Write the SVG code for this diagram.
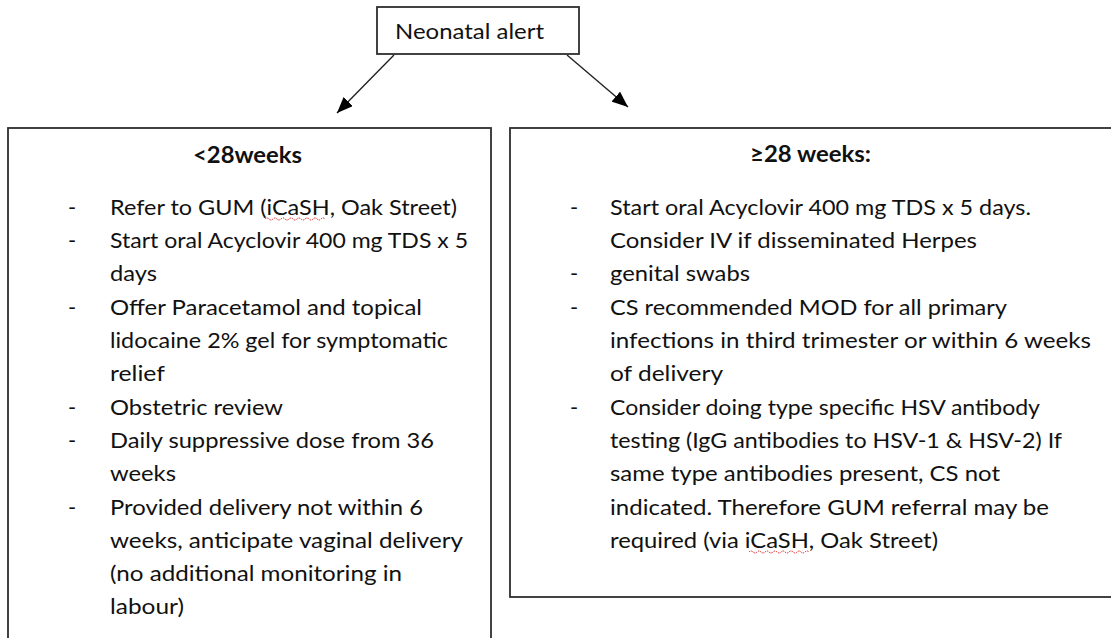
<svg xmlns="http://www.w3.org/2000/svg" width="1111" height="638" viewBox="0 0 1111 638">
<defs>
<marker id="arr" markerUnits="userSpaceOnUse" markerWidth="17" markerHeight="13" refX="16" refY="6.5" orient="auto">
<path d="M0,0 L16,6.5 L0,13 z" fill="#000"/>
</marker>
<style>
.box{fill:#fff;stroke:#2e2e2e;stroke-width:1.8}
.t{font-family:Lato,"Open Sans","Liberation Sans",sans-serif;font-size:22px;fill:#111}
.b{font-weight:bold}
.conn{stroke:#222;stroke-width:1.4;fill:none}
.sq{stroke:#e02020;stroke-width:1;fill:none;stroke-dasharray:1.5 1}
</style>
</defs>
<rect width="1111" height="638" fill="#fff"/>
<g id="connectors">
<line class="conn" x1="394" y1="55" x2="337" y2="113" marker-end="url(#arr)"/>
<line class="conn" x1="567" y1="55" x2="628" y2="107" marker-end="url(#arr)"/>
</g>
<g id="node-alert">
<rect class="box" x="377" y="7" width="202" height="47" stroke="#000"/>
<text class="t" x="395" y="39" textLength="149" lengthAdjust="spacingAndGlyphs">Neonatal alert</text>
</g>
<g id="node-lt28">
<rect class="box" x="8" y="128" width="483" height="530"/>
<text class="t b" x="193" y="163" textLength="109" lengthAdjust="spacingAndGlyphs">&lt;28weeks</text>
<text class="t" x="68" y="215">-</text>
<text class="t" x="110" y="215" textLength="347" lengthAdjust="spacingAndGlyphs">Refer to GUM (iCaSH, Oak Street)</text>
<path class="sq" d="M265,219 q2,-2 4,0 t4,0 t4,0 t4,0 t4,0 t4,0 t4,0 t4,0 t4,0 t4,0 t4,0 t4,0 t4,0 t4,0 t4,0"/>
<text class="t" x="68" y="248">-</text>
<text class="t" x="110" y="248" textLength="358" lengthAdjust="spacingAndGlyphs">Start oral Acyclovir 400 mg TDS x 5</text>
<text class="t" x="110" y="281" textLength="47" lengthAdjust="spacingAndGlyphs">days</text>
<text class="t" x="68" y="315">-</text>
<text class="t" x="110" y="315" textLength="312" lengthAdjust="spacingAndGlyphs">Offer Paracetamol and topical</text>
<text class="t" x="110" y="348" textLength="338" lengthAdjust="spacingAndGlyphs">lidocaine 2% gel for symptomatic</text>
<text class="t" x="110" y="381" textLength="55" lengthAdjust="spacingAndGlyphs">relief</text>
<text class="t" x="68" y="415">-</text>
<text class="t" x="110" y="415" textLength="173" lengthAdjust="spacingAndGlyphs">Obstetric review</text>
<text class="t" x="68" y="448">-</text>
<text class="t" x="110" y="448" textLength="324" lengthAdjust="spacingAndGlyphs">Daily suppressive dose from 36</text>
<text class="t" x="110" y="481" textLength="66" lengthAdjust="spacingAndGlyphs">weeks</text>
<text class="t" x="68" y="515">-</text>
<text class="t" x="110" y="515" textLength="313" lengthAdjust="spacingAndGlyphs">Provided delivery not within 6</text>
<text class="t" x="110" y="548" textLength="353" lengthAdjust="spacingAndGlyphs">weeks, anticipate vaginal delivery</text>
<text class="t" x="110" y="581" textLength="292" lengthAdjust="spacingAndGlyphs">(no additional monitoring in</text>
<text class="t" x="110" y="614" textLength="74" lengthAdjust="spacingAndGlyphs">labour)</text>
</g>
<g id="node-ge28">
<rect class="box" x="510" y="128" width="620" height="469"/>
<text class="t b" x="750" y="162" textLength="121" lengthAdjust="spacingAndGlyphs">≥28 weeks:</text>
<text class="t" x="570" y="215">-</text>
<text class="t" x="610" y="215" textLength="421" lengthAdjust="spacingAndGlyphs">Start oral Acyclovir 400 mg TDS x 5 days.</text>
<text class="t" x="610" y="248" textLength="367" lengthAdjust="spacingAndGlyphs">Consider IV if disseminated Herpes</text>
<text class="t" x="570" y="281">-</text>
<text class="t" x="610" y="281" textLength="140" lengthAdjust="spacingAndGlyphs">genital swabs</text>
<text class="t" x="570" y="315">-</text>
<text class="t" x="610" y="315" textLength="397" lengthAdjust="spacingAndGlyphs">CS recommended MOD for all primary</text>
<text class="t" x="610" y="348" textLength="481" lengthAdjust="spacingAndGlyphs">infections in third trimester or within 6 weeks</text>
<text class="t" x="610" y="381" textLength="113" lengthAdjust="spacingAndGlyphs">of delivery</text>
<text class="t" x="570" y="415">-</text>
<text class="t" x="610" y="415" textLength="430" lengthAdjust="spacingAndGlyphs">Consider doing type specific HSV antibody</text>
<text class="t" x="610" y="448" textLength="452" lengthAdjust="spacingAndGlyphs">testing (IgG antibodies to HSV-1 &amp; HSV-2) If</text>
<text class="t" x="610" y="481" textLength="390" lengthAdjust="spacingAndGlyphs">same type antibodies present, CS not</text>
<text class="t" x="610" y="515" textLength="439" lengthAdjust="spacingAndGlyphs">indicated. Therefore GUM referral may be</text>
<text class="t" x="610" y="548" textLength="328" lengthAdjust="spacingAndGlyphs">required (via iCaSH, Oak Street)</text>
<path class="sq" d="M749,552 q2,-2 4,0 t4,0 t4,0 t4,0 t4,0 t4,0 t4,0 t4,0 t4,0 t4,0 t4,0 t4,0 t4,0 t4,0 t4,0"/>
</g>
</svg>
